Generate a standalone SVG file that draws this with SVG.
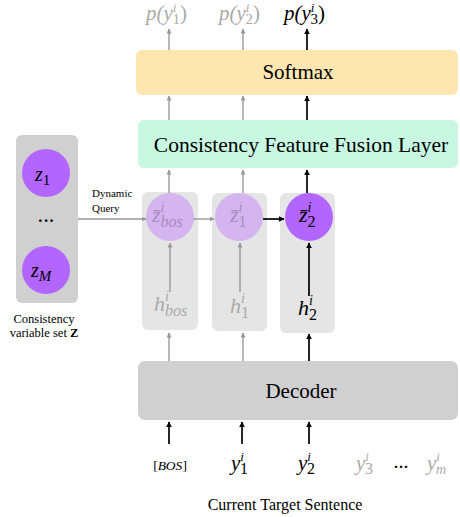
<svg xmlns="http://www.w3.org/2000/svg" width="460" height="517" viewBox="0 0 460 517" font-family="'Liberation Serif', 'Times New Roman', 'DejaVu Serif', serif">
<defs>
<marker id="ag" viewBox="0 0 10 10" refX="9" refY="5" markerWidth="5" markerHeight="5" markerUnits="userSpaceOnUse" orient="auto"><path d="M0,0 L10,5 L0,10 z" fill="#999"/></marker>
<marker id="ab" viewBox="0 0 10 10" refX="9" refY="5" markerWidth="6" markerHeight="6" markerUnits="userSpaceOnUse" orient="auto"><path d="M0,0 L10,5 L0,10 z" fill="#000"/></marker>
<style>
.m{font-style:italic}
.g{fill:#aaa}
.k{fill:#000}
.f{fill:#a98cc0}
.lg{stroke:#999;stroke-width:1.4;fill:none;marker-end:url(#ag)}
.lb{stroke:#000;stroke-width:1.7;fill:none;marker-end:url(#ab)}
.col{fill:#e5e5e5}
</style>
</defs>
<g id="softmax"><rect x="136" y="50" width="322" height="45" rx="6" fill="#fde6b0"/><text x="298" y="79" font-size="21" text-anchor="middle">Softmax</text></g>
<g id="fusion"><rect x="138" y="120" width="320" height="48" rx="6" fill="#c8f8e2"/><text x="301" y="152" font-size="21.5" text-anchor="middle">Consistency Feature Fusion Layer</text></g>
<g id="decoder"><rect x="138" y="361" width="320" height="59" rx="7" fill="#d0d0d0"/><text x="301" y="398" font-size="21" text-anchor="middle">Decoder</text></g>
<g id="zset"><rect x="16" y="135" width="62" height="168" rx="6" fill="#d0d0d0"/>
<circle cx="46" cy="173" r="24" fill="#b366ff"/><text class="m k" x="35" y="181" font-size="20">z<tspan font-size="15" font-style="normal" dy="4">1</tspan></text>
<text x="46" y="226" font-size="17" font-weight="bold" text-anchor="middle">···</text>
<circle cx="46" cy="270" r="24" fill="#b366ff"/><text class="m k" x="31" y="277" font-size="20">z<tspan font-size="15" dy="4">M</tspan></text>
<text x="44" y="323" font-size="12.5" text-anchor="middle">Consistency</text>
<text x="44" y="337" font-size="12.5" text-anchor="middle">variable set <tspan font-weight="bold">Z</tspan></text>
</g>
<g id="col1"><rect class="col" x="142" y="192" width="56" height="138" rx="6"/>
<circle cx="170" cy="217" r="24" fill="#d5b5ef"/>
<text class="m f" x="152" y="222" font-size="22">z̄<tspan font-size="14" dy="-10">i</tspan><tspan font-size="16" dx="-4" dy="15">bos</tspan></text>
<text class="m g" x="154" y="311" font-size="22">h<tspan font-size="14" dy="-10">i</tspan><tspan font-size="16" dx="-4" dy="15">bos</tspan></text>
</g>
<g id="col2"><rect class="col" x="212" y="193" width="55" height="138" rx="6"/>
<circle cx="239" cy="217" r="24" fill="#d5b5ef"/>
<text class="m f" x="230" y="222" font-size="22">z̄<tspan font-size="14" dy="-10">i</tspan><tspan font-size="16" font-style="normal" dx="-4" dy="15">1</tspan></text>
<text class="m g" x="230" y="313" font-size="22">h<tspan font-size="14" dy="-10">i</tspan><tspan font-size="16" font-style="normal" dx="-4" dy="15">1</tspan></text>
</g>
<g id="col3"><rect class="col" x="280" y="193" width="55" height="140" rx="6"/>
<circle cx="309" cy="217" r="24" fill="#b366ff"/>
<text class="m k" x="299" y="222" font-size="22">z̄<tspan font-size="14" dy="-10">i</tspan><tspan font-size="16" font-style="normal" dx="-4" dy="15">2</tspan></text>
<text class="m k" x="298" y="315" font-size="22">h<tspan font-size="14" dy="-10">i</tspan><tspan font-size="16" font-style="normal" dx="-4" dy="15">2</tspan></text>
</g>
<g id="outputs">
<text class="m g" x="146" y="20" font-size="21">p(y<tspan font-size="13" dy="-8">i</tspan><tspan font-size="15" font-style="normal" dx="-4" dy="12">1</tspan><tspan font-style="normal" dy="-4">)</tspan></text>
<text class="m g" x="219" y="20" font-size="21">p(y<tspan font-size="13" dy="-8">i</tspan><tspan font-size="15" font-style="normal" dx="-4" dy="12">2</tspan><tspan font-style="normal" dy="-4">)</tspan></text>
<text class="m k" x="284" y="20" font-size="21">p(y<tspan font-size="13" dy="-8">i</tspan><tspan font-size="15" font-style="normal" dx="-4" dy="12">3</tspan><tspan font-style="normal" dy="-4">)</tspan></text>
</g>
<g id="inputs">
<text class="m k" x="170" y="470" font-size="13.5" text-anchor="middle"><tspan font-style="normal">[</tspan>BOS<tspan font-style="normal">]</tspan></text>
<text class="m k" x="231" y="470" font-size="21">y<tspan font-size="13" dy="-9">i</tspan><tspan font-size="16" font-style="normal" dx="-4" dy="13">1</tspan></text>
<text class="m k" x="298" y="470" font-size="21">y<tspan font-size="13" dy="-9">i</tspan><tspan font-size="16" font-style="normal" dx="-4" dy="13">2</tspan></text>
<text class="m g" x="356" y="470" font-size="21">y<tspan font-size="13" dy="-9">i</tspan><tspan font-size="16" font-style="normal" dx="-4" dy="13">3</tspan></text>
<text x="401" y="472" font-size="15" font-weight="bold" text-anchor="middle">···</text>
<text class="m g" x="427" y="470" font-size="21">y<tspan font-size="13" dy="-9">i</tspan><tspan font-size="14" dx="-4" dy="13">m</tspan></text>
<text x="285" y="510" font-size="16" text-anchor="middle">Current Target Sentence</text>
</g>
<g id="connectors">
<line class="lg" x1="169" y1="50" x2="169" y2="29"/>
<line class="lg" x1="243" y1="50" x2="243" y2="29"/>
<line class="lb" x1="307" y1="50" x2="307" y2="29"/>
<line class="lg" x1="169" y1="120" x2="169" y2="96"/>
<line class="lg" x1="243" y1="120" x2="243" y2="96"/>
<line class="lb" x1="307" y1="120" x2="307" y2="96"/>
<line class="lg" x1="169" y1="193" x2="169" y2="170"/>
<line class="lg" x1="243" y1="193" x2="243" y2="170"/>
<line class="lb" x1="307" y1="193" x2="307" y2="170"/>
<line class="lg" x1="170" y1="292" x2="170" y2="243"/>
<line class="lg" x1="240" y1="292" x2="240" y2="243"/>
<line class="lb" x1="309" y1="296" x2="309" y2="243"/>
<line class="lg" x1="169" y1="361" x2="169" y2="333"/>
<line class="lg" x1="243" y1="361" x2="243" y2="333"/>
<line class="lb" x1="309" y1="361" x2="309" y2="334"/>
<line class="lb" x1="169" y1="444" x2="169" y2="422"/>
<line class="lb" x1="242" y1="444" x2="242" y2="422"/>
<line class="lb" x1="309" y1="444" x2="309" y2="422"/>
<line class="lg" x1="193" y1="219" x2="214" y2="219"/>
<line class="lb" x1="263" y1="219" x2="284" y2="219"/>
<line class="lg" x1="78" y1="219" x2="146" y2="219"/>
<text x="92" y="197" font-size="11">Dynamic</text>
<text x="92" y="212" font-size="11">Query</text>
</g>
</svg>
